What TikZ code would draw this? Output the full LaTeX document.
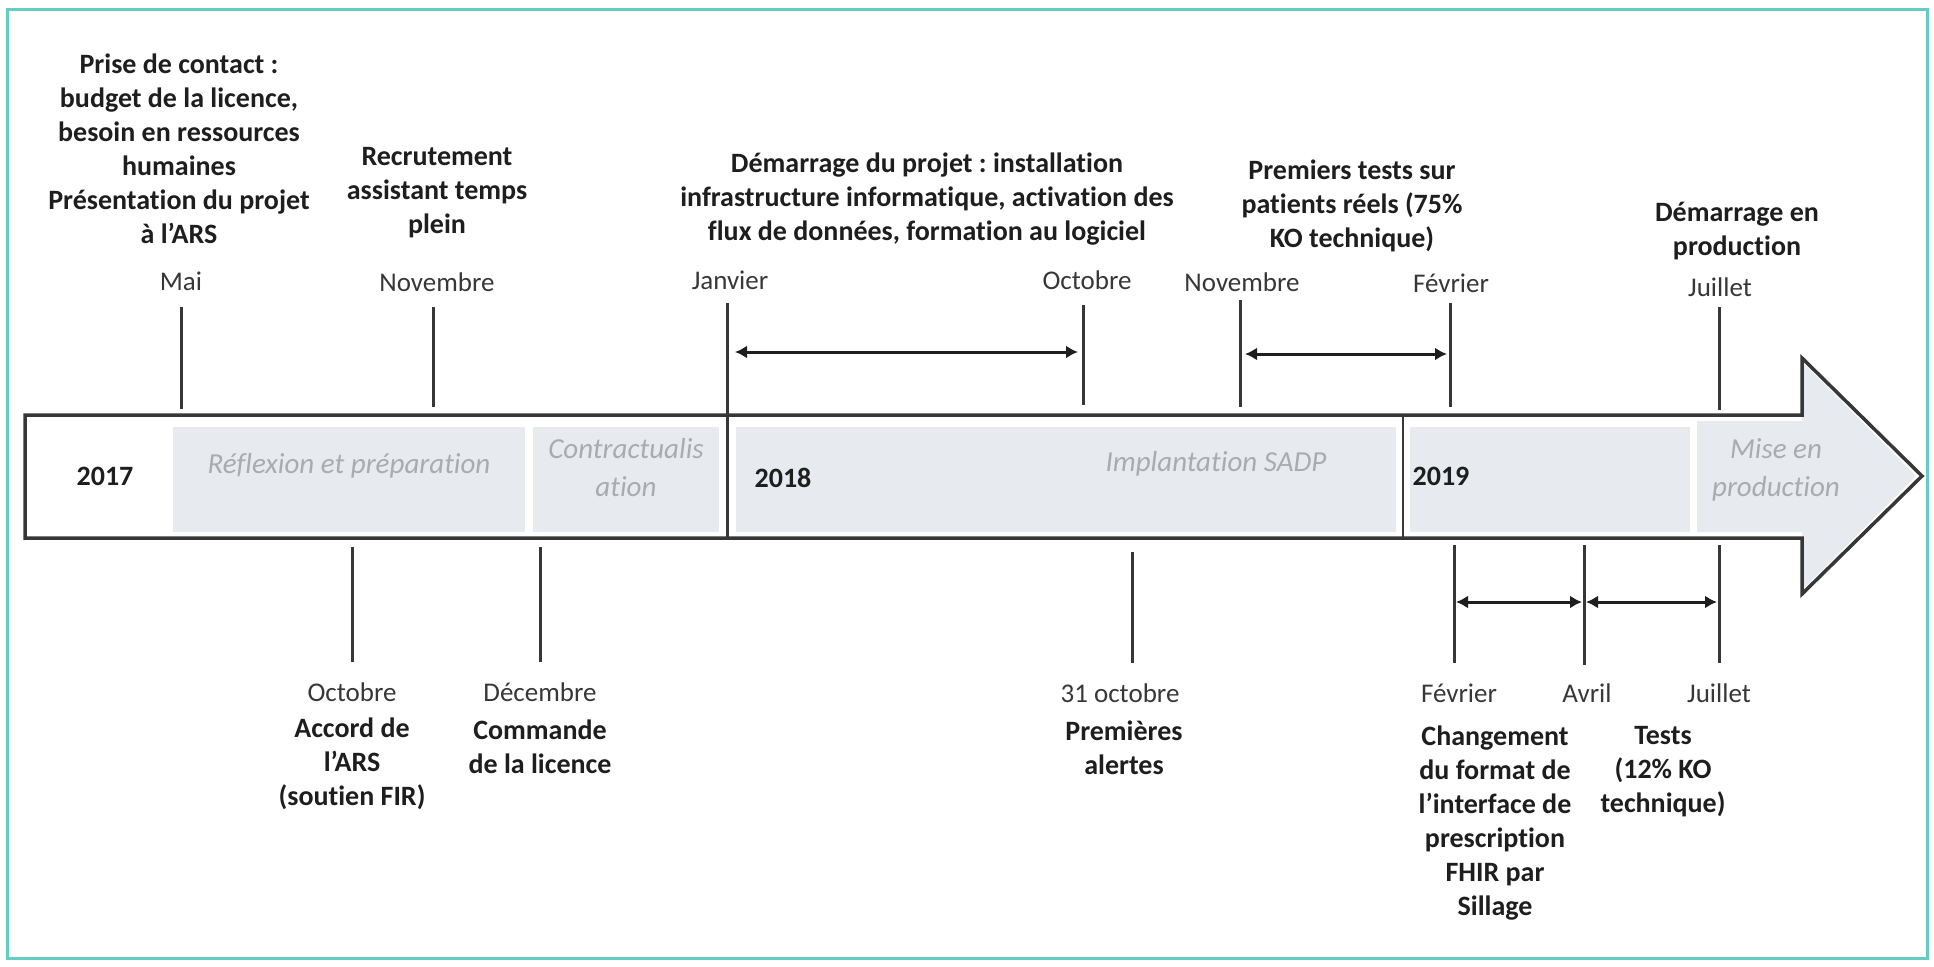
\documentclass[tikz,border=0pt]{standalone}
\usepackage{fontspec}
\setmainfont{Carlito}[Ligatures=NoCommon]
\usetikzlibrary{arrows.meta}
\frenchspacing
\definecolor{framecol}{RGB}{100,206,192}
\definecolor{barcol}{RGB}{55,55,55}
\definecolor{panelcol}{RGB}{231,234,238}
\definecolor{ghostcol}{RGB}{168,171,176}
\definecolor{monthcol}{RGB}{55,55,55}
\definecolor{evtcol}{RGB}{30,30,30}
\begin{document}
\begin{tikzpicture}[x=1pt,y=-1pt,
  tickline/.style={line width=3pt, draw=barcol},
  spanarrow/.style={line width=3pt, draw=evtcol, {Latex[length=12pt,width=13pt]}-{Latex[length=12pt,width=13pt]}},
  month/.style={font=\fontsize{27}{34}\selectfont, text=monthcol, inner sep=0pt},
  event/.style={font=\bfseries\fontsize{28}{34}\selectfont, align=center, text=evtcol, inner sep=0pt},
  ghost/.style={font=\itshape\fontsize{29}{38}\selectfont, align=center, text=ghostcol, inner sep=0pt},
  yearlbl/.style={font=\bfseries\fontsize{28}{34}\selectfont, text=evtcol, inner sep=0pt},
  panel/.style={fill=panelcol, draw=none}]
\useasboundingbox (0,0) rectangle (1934,966);
\fill[white] (0,0) rectangle (1934,966);
% frame
\draw[framecol, line width=3pt] (7,10) rectangle (1927,958);

% bar panels
\fill[panel] (173,427) rectangle (525,532);
\fill[panel] (533,427) rectangle (719,532);
\fill[panel] (736,427) rectangle (1396,532);
\fill[panel] (1410,427) rectangle (1690,532);
\fill[panel] (1697,421) -- (1802,421) -- (1802,362) -- (1916,476) -- (1802,590) -- (1802,532) -- (1697,532) -- cycle;

% bar outline
\draw[barcol, line width=3.5pt, line join=miter] (25,415) -- (1802,415) -- (1802,358) -- (1922,476) -- (1802,594) -- (1802,538) -- (25,538) -- cycle;

% bar texts
\node[yearlbl] (y2017) at (105,476) {2017};
\node[yearlbl] (y2018) at (783,478) {2018};
\node[yearlbl] (y2019) at (1441,476) {2019};
\node[ghost] (reflexion) at (349,466) {Réflexion et préparation};
\node[ghost] (contract) at (626,468) {Contractualis\\ation};
\node[ghost] (implant) at (1216,464) {Implantation SADP};
\node[ghost] (mise) at (1776,470) {Mise en\\production};

% coordinates of ticks
\coordinate (maiT) at (181,307);      \coordinate (maiB) at (181,409);
\coordinate (nov1T) at (433,307);     \coordinate (nov1B) at (433,407);
\coordinate (janT) at (727,303);      \coordinate (janB) at (727,538);
\coordinate (oct1T) at (1083,305);    \coordinate (oct1B) at (1083,405);
\coordinate (nov2T) at (1240,300);    \coordinate (nov2B) at (1240,407);
\coordinate (fev1T) at (1450,303);    \coordinate (fev1B) at (1450,407);
\coordinate (jul1T) at (1719,307);    \coordinate (jul1B) at (1719,410);
\coordinate (divT) at (1403,415);     \coordinate (divB) at (1403,538);
\coordinate (octLT) at (352,547);     \coordinate (octLB) at (352,662);
\coordinate (decT) at (540,547);      \coordinate (decB) at (540,662);
\coordinate (oct31T) at (1132,552);   \coordinate (oct31B) at (1132,663);
\coordinate (fev2T) at (1454,545);    \coordinate (fev2B) at (1454,663);
\coordinate (avrT) at (1584,545);     \coordinate (avrB) at (1584,665);
\coordinate (jul2T) at (1719,545);    \coordinate (jul2B) at (1719,663);

\draw[tickline] (maiT) -- (maiB);
\draw[tickline] (nov1T) -- (nov1B);
\draw[tickline] (janT) -- (janB);
\draw[tickline] (oct1T) -- (oct1B);
\draw[tickline] (nov2T) -- (nov2B);
\draw[tickline] (fev1T) -- (fev1B);
\draw[tickline] (jul1T) -- (jul1B);
\draw[line width=2.5pt, barcol] (divT) -- (divB);
\draw[tickline] (octLT) -- (octLB);
\draw[tickline] (decT) -- (decB);
\draw[tickline] (oct31T) -- (oct31B);
\draw[tickline] (fev2T) -- (fev2B);
\draw[tickline] (avrT) -- (avrB);
\draw[tickline] (jul2T) -- (jul2B);

% span arrows
\coordinate (s1a) at (735,352);  \coordinate (s1b) at (1078,352);
\coordinate (s2a) at (1245,354); \coordinate (s2b) at (1447,354);
\coordinate (s3a) at (1456,602); \coordinate (s3b) at (1582,602);
\coordinate (s4a) at (1586,602); \coordinate (s4b) at (1717,602);
\draw[spanarrow] (s1a) -- (s1b);
\draw[spanarrow] (s2a) -- (s2b);
\draw[spanarrow] (s3a) -- (s3b);
\draw[spanarrow] (s4a) -- (s4b);

% upper labels
\node[month] (mai) at (181,281) {Mai};
\node[month] (nov1) at (437,282) {Novembre};
\node[month] (jan) at (730,280) {Janvier};
\node[month] (oct1) at (1087,280) {Octobre};
\node[month] (nov2) at (1242,282) {Novembre};
\node[month] (fev1) at (1451,283) {Février};
\node[month] (jul1) at (1720,287) {Juillet};

\node[event] (ev1) at (179,149) {Prise de contact :\\budget de la licence,\\besoin en ressources\\humaines\\Présentation du projet\\à l’ARS};
\node[event] (ev2) at (437,193) {Recrutement\\assistant temps\\plein};
\node[event] (ev3) at (927,199) {Démarrage du projet : installation\\infrastructure informatique, activation des\\flux de données, formation au logiciel};
\node[event] (ev4) at (1352,206) {Premiers tests sur\\patients réels (75\%\\KO technique)};
\node[event] (ev5) at (1737,231) {Démarrage en\\production};

% lower labels
\node[month] (octL) at (352,692) {Octobre};
\node[month] (dec) at (540,692) {Décembre};
\node[month] (oct31) at (1120,693) {31 octobre};
\node[month] (fev2) at (1459,693) {Février};
\node[month] (avr) at (1587,693) {Avril};
\node[month] (jul2) at (1719,693) {Juillet};

\node[event] (ev6) at (352,764) {Accord de\\l’ARS\\(soutien FIR)};
\node[event] (ev7) at (540,747) {Commande\\de la licence};
\node[event] (ev8) at (1124,748) {Premières\\alertes};
\node[event] (ev9) at (1495,823) {Changement\\du format de\\l’interface de\\prescription\\FHIR par\\Sillage};
\node[event] (ev10) at (1663,772) {Tests\\(12\% KO\\technique)};
\end{tikzpicture}
\end{document}
